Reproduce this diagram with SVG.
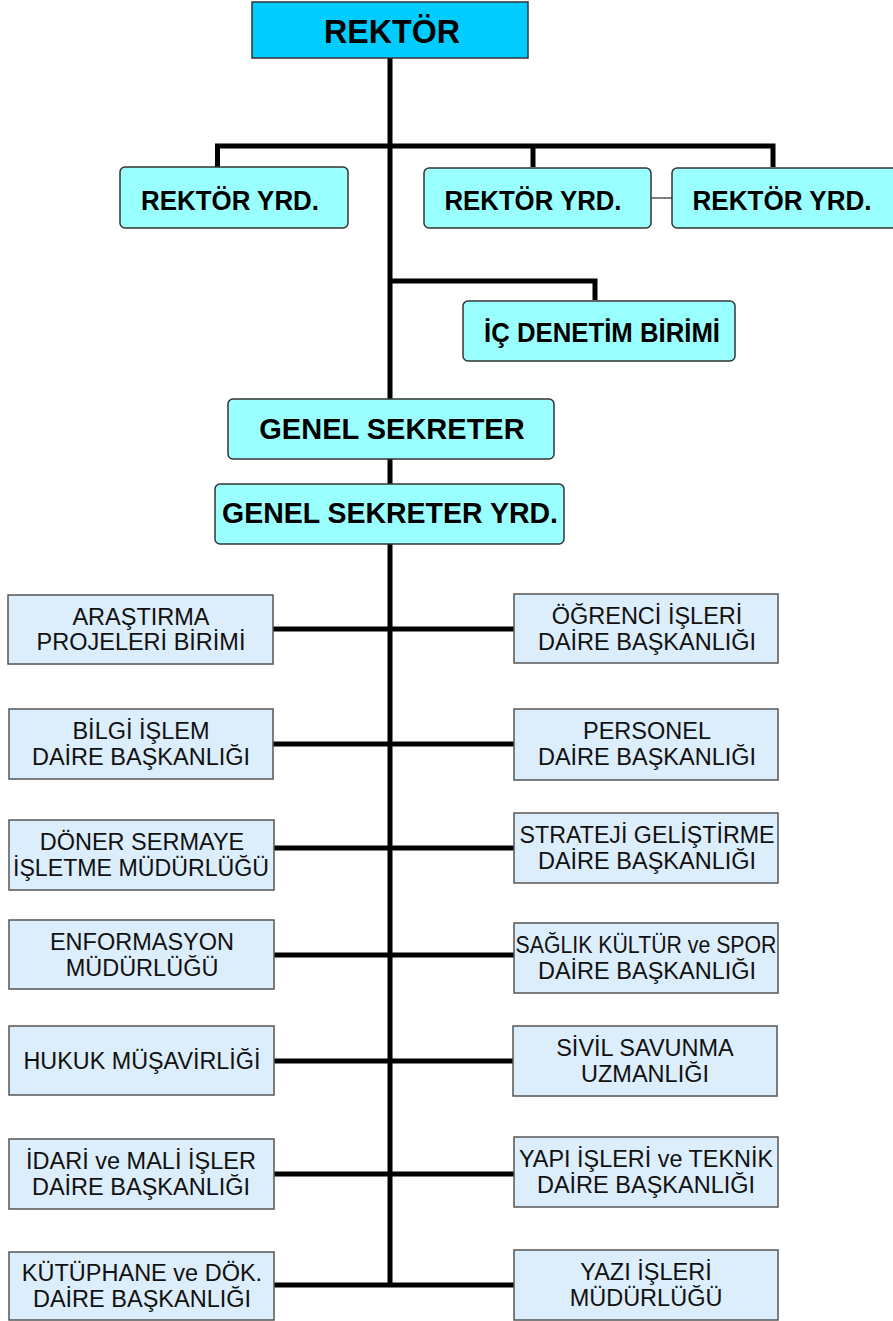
<svg xmlns="http://www.w3.org/2000/svg" width="893" height="1321" viewBox="0 0 893 1321">
<style>
.top{fill:#00CCFF;stroke:#333;stroke-width:1.5}
.mid{fill:#99FFFF;stroke:#333;stroke-width:1.5}
.unit{fill:#DCEDFB;stroke:#555;stroke-width:1.5}
.hb{font-family:"Liberation Sans",Arial,sans-serif;font-weight:bold;fill:#000;text-anchor:middle}
.ut{font-family:"Liberation Sans",Arial,sans-serif;font-size:23.5px;fill:#111;text-anchor:middle}
.ln{stroke:#000;stroke-width:5;fill:none}
</style>
<rect width="893" height="1321" fill="#fff"/>
<g id="connectors">
<line class="ln" x1="390" y1="58" x2="390" y2="1287"/>
<polyline class="ln" points="217.5,167 217.5,146 773,146 773,167"/>
<line class="ln" x1="533" y1="146" x2="533" y2="167"/>
<polyline class="ln" points="390,281 595,281 595,300"/>
<line x1="651" y1="198" x2="672" y2="198" stroke="#555" stroke-width="1.5"/>
<line class="ln" x1="273" y1="629" x2="514" y2="629"/>
<line class="ln" x1="273" y1="744" x2="514" y2="744"/>
<line class="ln" x1="273" y1="848" x2="514" y2="848"/>
<line class="ln" x1="273" y1="955" x2="514" y2="955"/>
<line class="ln" x1="273" y1="1061" x2="514" y2="1061"/>
<line class="ln" x1="273" y1="1174" x2="514" y2="1174"/>
<line class="ln" x1="273" y1="1285" x2="514" y2="1285"/>
</g>
<g id="rektor"><rect class="top" x="252" y="2" width="276" height="56"/><text class="hb" x="392" y="43" font-size="34" textLength="136" lengthAdjust="spacingAndGlyphs">REKTÖR</text></g>
<g id="ryrd1"><rect class="mid" x="120" y="167" width="228" height="61" rx="5"/><text class="hb" x="230" y="209.5" font-size="27" textLength="178" lengthAdjust="spacingAndGlyphs">REKTÖR YRD.</text></g>
<g id="ryrd2"><rect class="mid" x="424" y="168" width="227" height="60" rx="5"/><text class="hb" x="533" y="209.5" font-size="27" textLength="177" lengthAdjust="spacingAndGlyphs">REKTÖR YRD.</text></g>
<g id="ryrd3"><rect class="mid" x="672" y="168" width="230" height="60" rx="5"/><text class="hb" x="782" y="209.5" font-size="27" textLength="179" lengthAdjust="spacingAndGlyphs">REKTÖR YRD.</text></g>
<g id="icdenetim"><rect class="mid" x="463" y="301" width="272" height="60" rx="5"/><text class="hb" x="602" y="341.5" font-size="27" textLength="236" lengthAdjust="spacingAndGlyphs">İÇ DENETİM BİRİMİ</text></g>
<g id="gs"><rect class="mid" x="228" y="399" width="326" height="60" rx="5"/><text class="hb" x="392" y="439" font-size="29">GENEL SEKRETER</text></g>
<g id="gsy"><rect class="mid" x="215" y="484" width="349" height="60" rx="5"/><text class="hb" x="390" y="523" font-size="28.6" textLength="336" lengthAdjust="spacingAndGlyphs">GENEL SEKRETER YRD.</text></g>

<g id="l1"><rect class="unit" x="8" y="595" width="265" height="69"/><text class="ut" x="141" y="624.5">ARAŞTIRMA</text><text class="ut" x="141" y="650">PROJELERİ BİRİMİ</text></g>
<g id="r1"><rect class="unit" x="514" y="594" width="264" height="69"/><text class="ut" x="647" y="624">ÖĞRENCİ İŞLERİ</text><text class="ut" x="647" y="649.5">DAİRE BAŞKANLIĞI</text></g>
<g id="l2"><rect class="unit" x="9" y="709" width="264" height="70"/><text class="ut" x="141" y="739">BİLGİ İŞLEM</text><text class="ut" x="141" y="764.5">DAİRE BAŞKANLIĞI</text></g>
<g id="r2"><rect class="unit" x="514" y="709" width="264" height="71"/><text class="ut" x="647" y="739">PERSONEL</text><text class="ut" x="647" y="764.5">DAİRE BAŞKANLIĞI</text></g>
<g id="l3"><rect class="unit" x="9" y="820" width="265" height="70"/><text class="ut" x="142" y="850">DÖNER SERMAYE</text><text class="ut" x="141" y="875.5" textLength="256" lengthAdjust="spacingAndGlyphs">İŞLETME MÜDÜRLÜĞÜ</text></g>
<g id="r3"><rect class="unit" x="514" y="813" width="264" height="70"/><text class="ut" x="647" y="843" textLength="255" lengthAdjust="spacingAndGlyphs">STRATEJİ GELİŞTİRME</text><text class="ut" x="647" y="868.5">DAİRE BAŞKANLIĞI</text></g>
<g id="l4"><rect class="unit" x="9" y="920" width="265" height="69"/><text class="ut" x="142" y="950">ENFORMASYON</text><text class="ut" x="142" y="975.5">MÜDÜRLÜĞÜ</text></g>
<g id="r4"><rect class="unit" x="514" y="923" width="264" height="70"/><text class="ut" x="646" y="953" textLength="261" lengthAdjust="spacingAndGlyphs">SAĞLIK KÜLTÜR ve SPOR</text><text class="ut" x="647" y="978.5">DAİRE BAŞKANLIĞI</text></g>
<g id="l5"><rect class="unit" x="9" y="1026" width="265" height="69"/><text class="ut" x="142" y="1069" textLength="237" lengthAdjust="spacingAndGlyphs">HUKUK MÜŞAVİRLİĞİ</text></g>
<g id="r5"><rect class="unit" x="513" y="1026" width="264" height="70"/><text class="ut" x="645" y="1056">SİVİL SAVUNMA</text><text class="ut" x="645" y="1081.5">UZMANLIĞI</text></g>
<g id="l6"><rect class="unit" x="9" y="1139" width="265" height="70"/><text class="ut" x="141" y="1169">İDARİ ve MALİ İŞLER</text><text class="ut" x="141" y="1194.5">DAİRE BAŞKANLIĞI</text></g>
<g id="r6"><rect class="unit" x="514" y="1137" width="264" height="70"/><text class="ut" x="646" y="1167" textLength="254" lengthAdjust="spacingAndGlyphs">YAPI İŞLERİ ve TEKNİK</text><text class="ut" x="646" y="1192.5">DAİRE BAŞKANLIĞI</text></g>
<g id="l7"><rect class="unit" x="9" y="1252" width="265" height="68"/><text class="ut" x="142" y="1281">KÜTÜPHANE ve DÖK.</text><text class="ut" x="142" y="1306.5">DAİRE BAŞKANLIĞI</text></g>
<g id="r7"><rect class="unit" x="514" y="1250" width="264" height="70"/><text class="ut" x="646" y="1280">YAZI İŞLERİ</text><text class="ut" x="646" y="1305.5">MÜDÜRLÜĞÜ</text></g>
</svg>
